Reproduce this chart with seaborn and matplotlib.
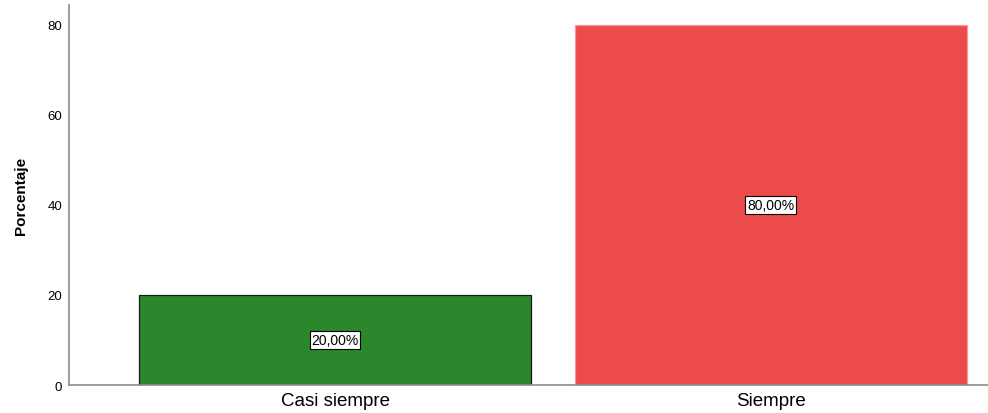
import seaborn as sns
import matplotlib.pyplot as plt
import pandas as pd

categorias = ["Casi siempre", "Siempre"]
porcentajes = [20.0, 80.0]
etiquetas = ["20,00%", "80,00%"]
colores = ["#2b872b", "#ec4b4b"]

sns.set_style("white")
plt.rcParams["font.family"] = ["Liberation Sans", "DejaVu Sans"]
plt.rcParams["text.color"] = "black"
plt.rcParams["xtick.color"] = "black"
plt.rcParams["ytick.color"] = "black"
plt.rcParams["axes.labelcolor"] = "black"

df = pd.DataFrame({"categoria": categorias, "porcentaje": porcentajes})

fig = plt.figure(figsize=(9.88, 4.14), dpi=100)
ax = fig.add_axes([0.0698, 0.0676, 0.9302, 0.918])

sns.barplot(data=df, x="categoria", y="porcentaje", hue="categoria",
            palette=colores, width=0.9, legend=False, ax=ax, saturation=1)

# bordes: verde con borde negro, rojo con borde claro
ax.patches[0].set_edgecolor("#1a1a1a")
ax.patches[0].set_linewidth(0.9)
ax.patches[1].set_edgecolor("#f49a9a")
ax.patches[1].set_linewidth(0.9)

for i, (v, t) in enumerate(zip(porcentajes, etiquetas)):
    ax.text(i, v / 2, t, ha="center", va="center", fontsize=10,
            bbox=dict(boxstyle="square,pad=0.12", fc="white", ec="black", lw=0.8))

ax.set_xlim(-0.611, 1.499)
ax.set_ylim(0, 84.4)
ax.set_yticks([0, 20, 40, 60, 80])
ax.tick_params(axis="y", length=0, labelsize=9.5, pad=5)
ax.tick_params(axis="x", length=0, labelsize=13.5, pad=5)
ax.set_xlabel("")
ax.set_ylabel("Porcentaje", fontsize=11, fontweight="bold",
              family=["Liberation Sans Narrow", "Liberation Sans", "DejaVu Sans"], labelpad=14)

for s in ["top", "right"]:
    ax.spines[s].set_visible(False)
for s in ["left", "bottom"]:
    ax.spines[s].set_color("#8c8c8c")
    ax.spines[s].set_linewidth(1.2)

fig.savefig("out.png", dpi=100)
